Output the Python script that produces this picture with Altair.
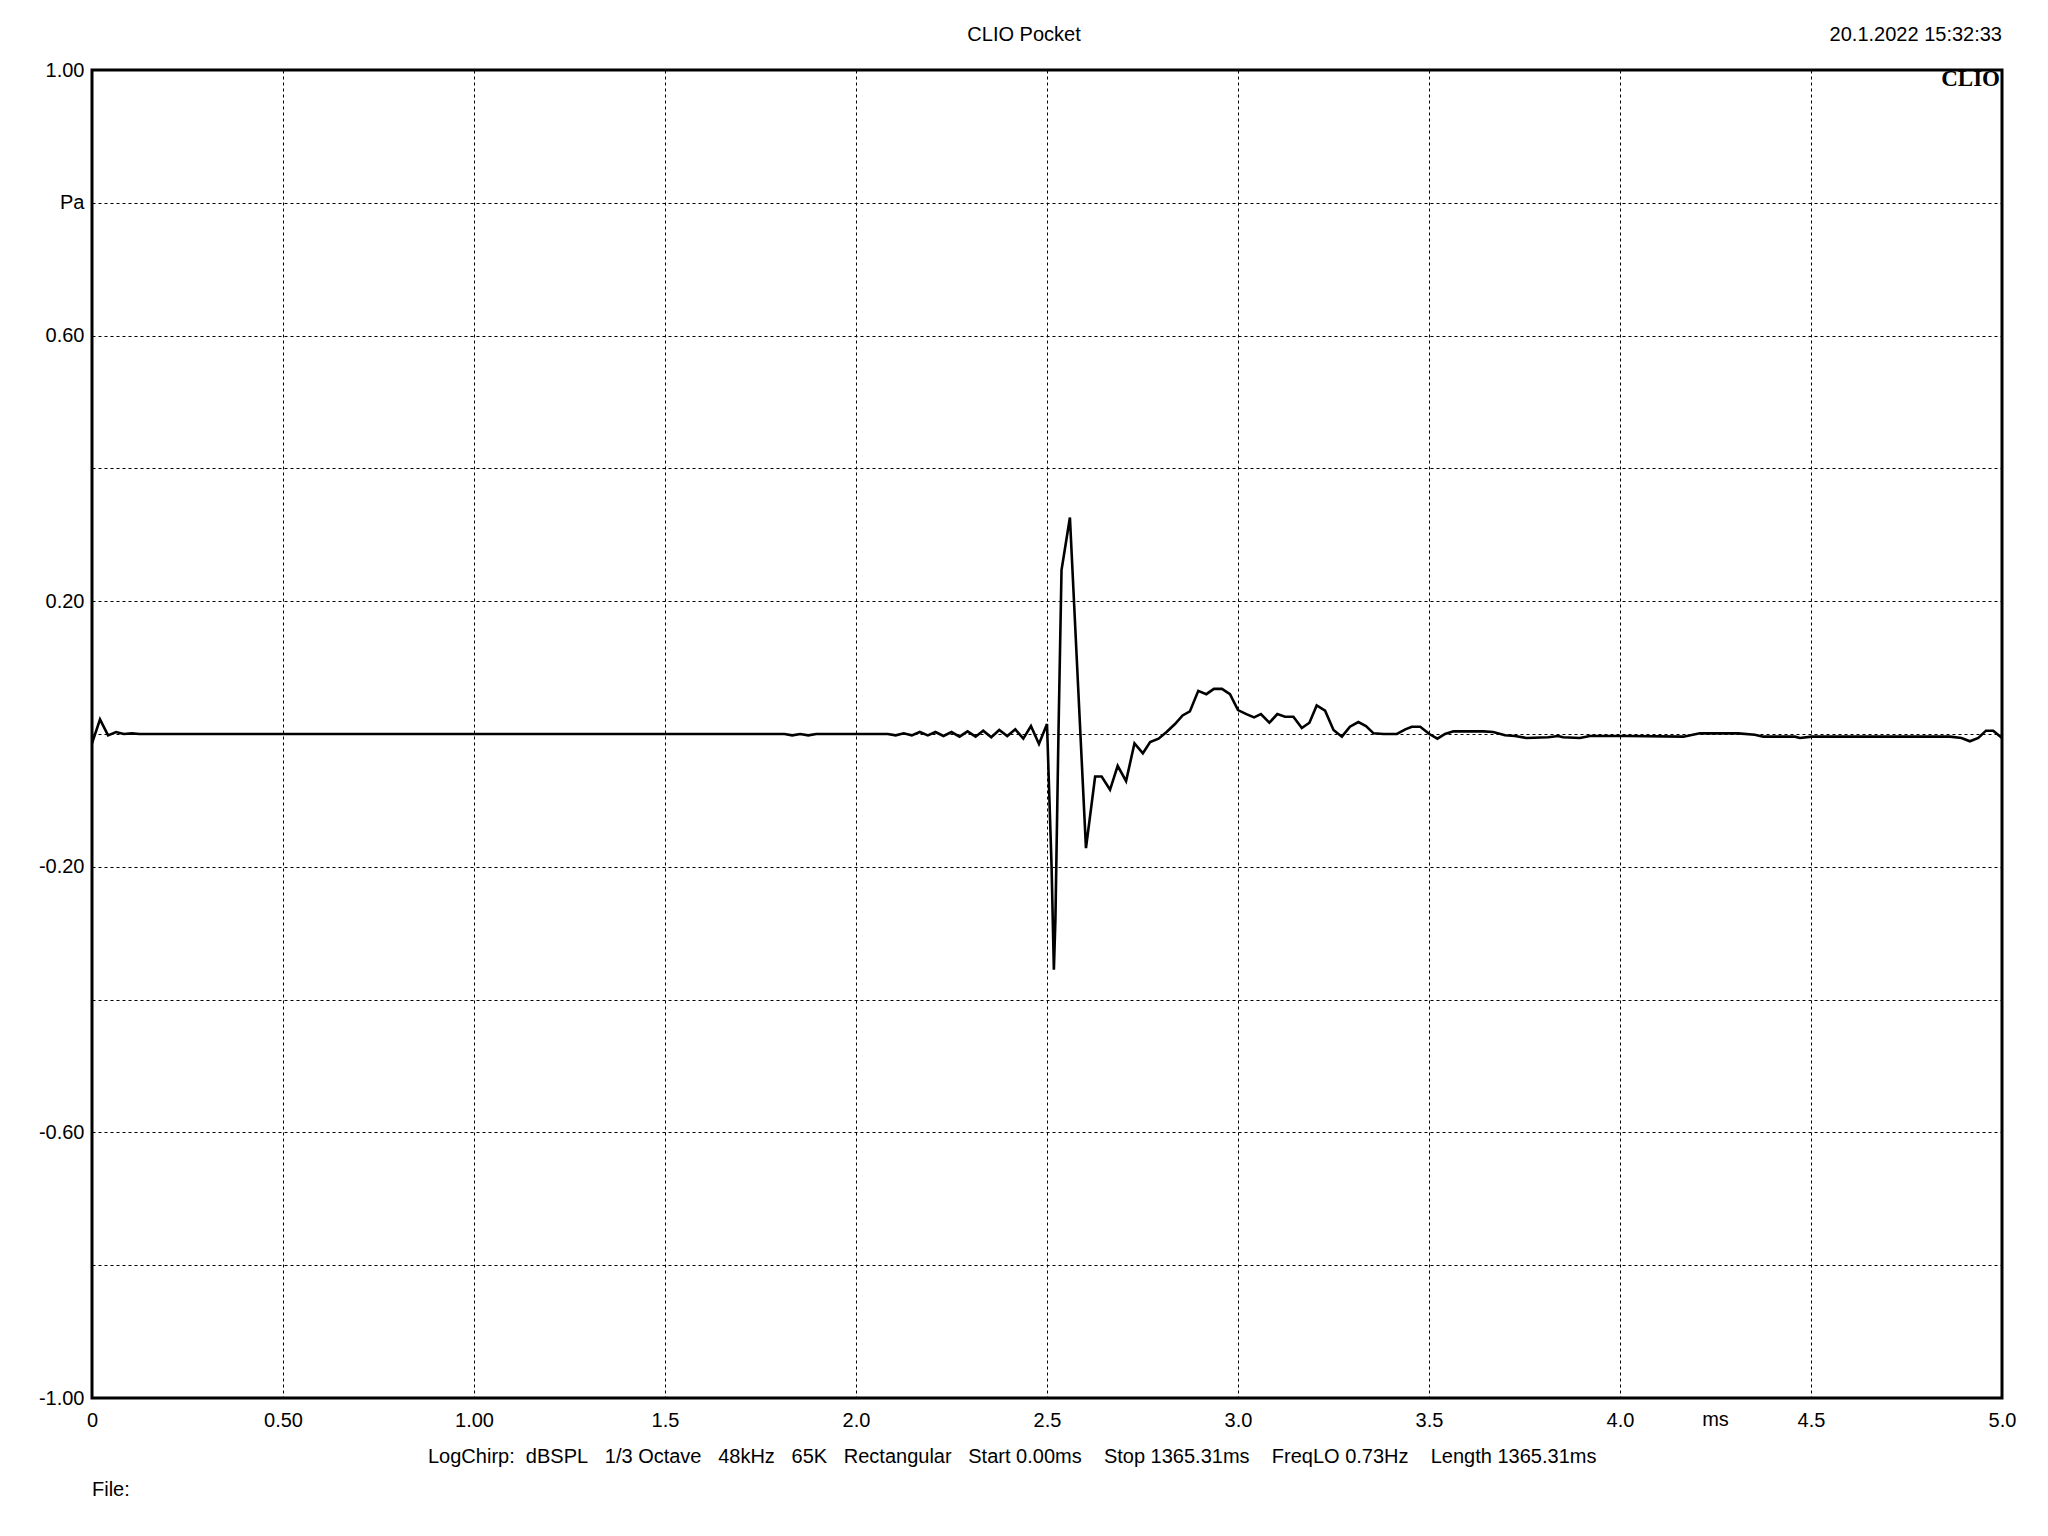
import altair as alt
import pandas as pd

# ---- data (time in ms, pressure in Pa) ----
t_ms = [
    0.0, 0.021, 0.042, 0.063, 0.083, 0.104, 0.125, 0.146,
    1.813, 1.833, 1.854, 1.875, 1.896,
    2.083, 2.104, 2.125, 2.146, 2.167, 2.188, 2.208, 2.229, 2.25, 2.271, 2.292,
    2.313, 2.333, 2.354, 2.375, 2.396, 2.417, 2.438, 2.458, 2.479, 2.5,
    2.512, 2.518, 2.522, 2.53, 2.538, 2.56, 2.602,
    2.626, 2.643, 2.665, 2.685, 2.707, 2.729, 2.751, 2.77, 2.792, 2.813, 2.835,
    2.855, 2.874, 2.896, 2.917, 2.937, 2.958, 2.979, 3.0,
    3.022, 3.042, 3.06, 3.082, 3.103, 3.123, 3.145, 3.167, 3.187, 3.206, 3.228,
    3.25, 3.272, 3.293, 3.315, 3.335, 3.355, 3.381, 3.416, 3.438, 3.455, 3.477,
    3.501, 3.522, 3.542, 3.564, 3.642, 3.668, 3.699, 3.725, 3.755, 3.812,
    3.838, 3.851, 3.895, 3.921, 4.017, 4.166, 4.209, 4.31, 4.353, 4.375, 4.458,
    4.471, 4.502, 4.864, 4.894, 4.916, 4.938, 4.958, 4.977, 5.0,
]
pa = [
    -0.014, 0.022, -0.002, 0.003, 0.0, 0.001, 0.0, 0.0,
    0.0, -0.002, 0.0, -0.002, 0.0,
    0.0, -0.002, 0.001, -0.002, 0.003, -0.002, 0.003, -0.003, 0.003, -0.004, 0.004,
    -0.004, 0.005, -0.005, 0.006, -0.003, 0.007, -0.007, 0.012, -0.015, 0.015,
    -0.2, -0.355, -0.28, 0.0, 0.247, 0.326, -0.172,
    -0.064, -0.064, -0.084, -0.048, -0.071, -0.014, -0.029, -0.012, -0.007, 0.003, 0.015,
    0.028, 0.034, 0.065, 0.06, 0.068, 0.068, 0.06, 0.036,
    0.03, 0.025, 0.03, 0.017, 0.03, 0.026, 0.026, 0.009, 0.017, 0.043, 0.035,
    0.006, -0.004, 0.011, 0.018, 0.012, 0.001, 0.0, 0.0, 0.007, 0.011, 0.011,
    0.0, -0.007, 0.0, 0.004, 0.004, 0.003, -0.002, -0.003, -0.006, -0.005,
    -0.003, -0.005, -0.006, -0.003, -0.003, -0.004, 0.001, 0.001, -0.001, -0.004, -0.004,
    -0.006, -0.004, -0.004, -0.006, -0.011, -0.006, 0.005, 0.005, -0.006,
]

x_tick_values = [0, 0.5, 1.0, 1.5, 2.0, 2.5, 3.0, 3.5, 4.0, 4.5, 5.0]
x_tick_labels = ["0", "0.50", "1.00", "1.5", "2.0", "2.5", "3.0", "3.5", "4.0", "4.5", "5.0"]
y_tick_values = [-1.0, -0.8, -0.6, -0.4, -0.2, 0.0, 0.2, 0.4, 0.6, 0.8, 1.0]
y_tick_labels = ["-1.00", "", "-0.60", "", "-0.20", "", "0.20", "", "0.60", "Pa", "1.00"]

title_text = "CLIO Pocket"
date_text = "20.1.2022 15:32:33"
brand_text = "CLIO"
unit_x = "ms"
info_parts = ["LogChirp:", "dBSPL", "1/3 Octave", "48kHz", "65K", "Rectangular",
              "Start 0.00ms", "Stop 1365.31ms", "FreqLO 0.73Hz", "Length 1365.31ms"]
info_gaps = [2, 3, 3, 3, 3, 3, 4, 4, 4]
file_text = "File:"

NB = "\u00a0"
info_text = ""
for i, p in enumerate(info_parts):
    info_text += p
    if i < len(info_gaps):
        info_text += NB * info_gaps[i]

df = pd.DataFrame({"t": t_ms, "pa": pa})

W, H = 1910, 1328
FONT = "Liberation Sans"
FS = 20

xlab = "[" + ",".join("'%s'" % s for s in x_tick_labels) + "][round(datum.value*2)]"
ylab = "[" + ",".join("'%s'" % s for s in y_tick_labels) + "][round((datum.value+1)*5)]"

line = alt.Chart(df).mark_line(color="black", strokeWidth=2.6, clip=True).encode(
    x=alt.X("t:Q", scale=alt.Scale(domain=[0, 5], nice=False, zero=False),
            axis=alt.Axis(values=x_tick_values, labelExpr=xlab, title=None,
                          grid=True, gridDash=[3, 3], gridColor="black", gridOpacity=1,
                          gridWidth=1, ticks=False, domain=False, labelPadding=12,
                          labelFont=FONT, labelFontSize=FS, labelColor="black",
                          labelFlush=False, labelOverlap=False, labelBound=False)),
    y=alt.Y("pa:Q", scale=alt.Scale(domain=[-1, 1], nice=False, zero=False),
            axis=alt.Axis(values=y_tick_values, labelExpr=ylab, title=None,
                          grid=True, gridDash=[3, 3], gridColor="black", gridOpacity=1,
                          gridWidth=1, ticks=False, domain=False, labelPadding=8,
                          labelFont=FONT, labelFontSize=FS, labelColor="black",
                          labelFlush=False, labelOverlap=False, labelBound=False)),
)

one = pd.DataFrame({"d": [0]})

def txt(text, x, y, align="center", font=FONT, size=FS, weight="normal"):
    return alt.Chart(one).mark_text(
        text=text, align=align, baseline="middle", font=font, fontSize=size,
        fontWeight=weight, color="black"
    ).encode(x=alt.value(x), y=alt.value(y))

ms_label = alt.Chart(one).mark_text(
    text=unit_x, align="center", baseline="middle", font=FONT, fontSize=FS, color="black"
).encode(x=alt.datum(4.25), y=alt.value(H + 22))

chart = alt.layer(
    line,
    txt(title_text, 932, -35),
    txt(date_text, 1910, -35, align="right"),
    txt(brand_text, 1908, 9, align="right", font="Liberation Serif", size=23, weight="bold"),
    txt(info_text, 336, 1387, align="left"),
    txt(file_text, 0, 1420, align="left"),
    ms_label,
).properties(
    width=W, height=H,
    padding={"left": 84, "top": 62, "right": 38, "bottom": 130},
    autosize=alt.AutoSizeParams(type="none"),
    background="white",
).configure_view(
    stroke="black", strokeWidth=3
)

chart.save("out.html", embed_options={"renderer": "svg", "actions": False})
